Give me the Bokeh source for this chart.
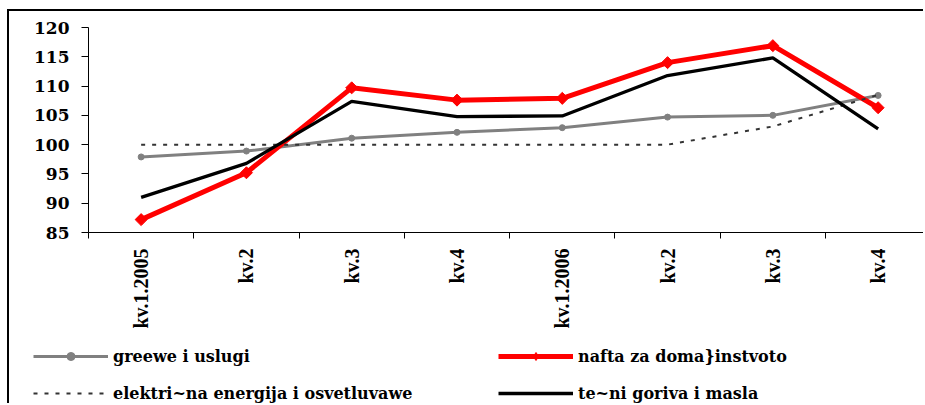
import math
from bokeh.plotting import figure
from bokeh.models import Range1d, FixedTicker, Legend, LegendItem
from bokeh.embed import file_html
from bokeh.resources import INLINE

quarters = ["kv.1.2005", "kv.2", "kv.3", "kv.4", "kv.1.2006", "kv.2", "kv.3", "kv.4"]
goods_services = [97.9, 98.9, 101.1, 102.1, 102.9, 104.7, 105.0, 108.4]
heating_oil = [87.2, 95.2, 109.7, 107.6, 107.9, 114.0, 116.9, 106.3]
electricity = [100.0, 100.0, 100.0, 100.0, 100.0, 100.0, 103.1, 108.5]
fuels = [91.0, 96.8, 107.4, 104.8, 104.9, 111.8, 114.8, 102.7]
series_names = ["greewe i uslugi", "nafta za doma}instvoto",
                "elektri~na energija i osvetluvawe", "te~ni goriva i masla"]
y_ticks = [85, 90, 95, 100, 105, 110, 115, 120]

x = [i + 0.5 for i in range(len(quarters))]

styles = {
    "gray": dict(line_color="#808080", line_width=3),
    "gray_m": dict(marker="circle", size=6, fill_color="#808080", line_color="#808080"),
    "red": dict(line_color="#FF0000", line_width=5),
    "red_m": dict(marker="square", size=8.5, angle=math.pi / 4,
                  fill_color="#FF0000", line_color="#FF0000"),
    "red_key": dict(marker="diamond", size=11, fill_color="#FF0000", line_color="#FF0000"),
    "dot": dict(line_color="#333333", line_width=2, line_dash="4 7"),
    "black": dict(line_color="black", line_width=3.3),
}

# ---------------- main chart ----------------
p = figure(width=916, height=329, output_backend="svg", toolbar_location=None,
           x_range=Range1d(0, 7.95), y_range=Range1d(85, 120),
           min_border_left=79, min_border_right=0, min_border_top=16,
           min_border_bottom=108, outline_line_color=None,
           background_fill_color="white", border_fill_color="white")
p.styles = {"margin-left": "7px", "margin-top": "9px",
            "border-left": "2px solid black", "border-top": "2px solid black"}
p.xgrid.visible = False
p.ygrid.visible = False

xa = p.xaxis[0]
xa.ticker = FixedTicker(ticks=x, minor_ticks=list(range(len(quarters) + 1)))
xa.major_label_overrides = {xv: q for xv, q in zip(x, quarters)}
xa.major_tick_out = 0
xa.major_tick_in = 0
xa.minor_tick_out = 6
xa.minor_tick_in = 0
xa.minor_tick_line_color = "black"
xa.axis_line_color = "black"
xa.major_label_orientation = math.pi / 2
xa.major_label_standoff = 10
xa.major_label_text_font = "Liberation Serif"
xa.major_label_text_font_style = "bold"
xa.major_label_text_font_size = "20px"
xa.major_label_text_color = "black"

ya = p.yaxis[0]
ya.ticker = FixedTicker(ticks=y_ticks)
ya.major_tick_out = 7
ya.major_tick_in = 0
ya.minor_tick_line_color = None
ya.axis_line_color = "black"
ya.major_tick_line_color = "black"
ya.major_label_standoff = 12
ya.major_label_text_font = "DejaVu Serif"
ya.major_label_text_font_style = "bold"
ya.major_label_text_font_size = "17px"
ya.major_label_text_color = "black"

p.line(x, goods_services, **styles["gray"])
p.scatter(x, goods_services, **styles["gray_m"])
p.line(x, heating_oil, **styles["red"])
p.scatter(x, heating_oil, **styles["red_m"])
p.line(x, electricity, **styles["dot"])
p.line(x, fuels, **styles["black"])

# ---------------- legend strip (separate root, no frame alignment) ----------------
lg = figure(width=916, height=65, output_backend="svg", toolbar_location=None,
            x_range=Range1d(0, 1), y_range=Range1d(0, 1),
            x_axis_location=None, y_axis_location=None,
            min_border_left=0, min_border_right=0, min_border_top=0, min_border_bottom=0,
            outline_line_color=None, background_fill_color="white",
            border_fill_color="white")
lg.styles = {"margin-left": "7px", "border-left": "2px solid black"}
lg.xgrid.visible = False
lg.ygrid.visible = False

# legend keys (series values lie outside this strip's ranges, only the keys show)
g1 = lg.line(x, goods_services, **styles["gray"])
g2 = lg.scatter(x, goods_services, **styles["gray_m"])
r1 = lg.line(x, heating_oil, **styles["red"])
r2 = lg.scatter(x, heating_oil, **styles["red_key"])
d1 = lg.line(x, electricity, **styles["dot"])
b1 = lg.line(x, fuels, **styles["black"])

common = dict(border_line_color=None, background_fill_alpha=0, padding=0, margin=0,
              spacing=17, glyph_width=75, glyph_height=20, label_height=20,
              label_standoff=5, label_text_font="DejaVu Serif",
              label_text_font_style="bold", label_text_font_size="16px",
              label_text_color="black", orientation="vertical")
leg1 = Legend(items=[LegendItem(label=series_names[0], renderers=[g1, g2]),
                     LegendItem(label=series_names[2], renderers=[d1])],
              location=(24, 0), **common)
leg2 = Legend(items=[LegendItem(label=series_names[1], renderers=[r1, r2]),
                     LegendItem(label=series_names[3], renderers=[b1])],
              location=(489, 0), **common)
lg.add_layout(leg1, "center")
lg.add_layout(leg2, "center")

open("out.html", "w").write(file_html([p, lg], INLINE))
